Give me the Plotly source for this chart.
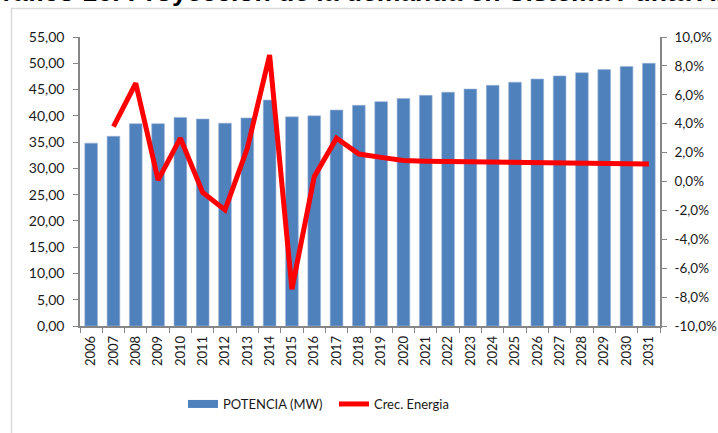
import plotly.graph_objects as go

# ---- data ----
years = [str(y) for y in range(2006, 2032)]
potencia_mw = [34.8, 36.1, 38.5, 38.5, 39.7, 39.4, 38.6, 39.6, 43.0, 39.8,
               40.0, 41.1, 42.0, 42.7, 43.3, 43.9, 44.5, 45.1, 45.8, 46.4,
               47.0, 47.6, 48.2, 48.8, 49.4, 50.0]
crec_years = [str(y) for y in range(2007, 2032)]
crec_energia_pct = [3.8, 6.8, 0.1, 3.0, -0.75, -1.97, 2.3, 8.75, -7.46, 0.33,
                    3.0, 1.9, 1.67, 1.45, 1.41, 1.39, 1.36, 1.34, 1.32, 1.30,
                    1.28, 1.26, 1.25, 1.23, 1.21]
left_ticks = [0, 5, 10, 15, 20, 25, 30, 35, 40, 45, 50, 55]
right_tickvals = [-10, -8, -6, -4, -2, 0, 2, 4, 6, 8, 10]
right_ticktext = ["-10,0%", "-8,0%", "-6,0%", "-4,0%", "-2,0%", "0,0%",
                  "2,0%", "4,0%", "6,0%", "8,0%", "10,0%"]
title_text = "Gráfico 16: Proyección de la demanda en Sistema Punta Abreojos"

W, H = 718, 433
L, R, T, B = 80, 58, 37, 107
PW, PH = W - L - R, H - T - B


def px_x(p):
    return (p - L) / PW


def px_y(p):
    return (H - B - p) / PH


BLUE = "#4F81BD"
RED = "#FF0000"
AX = "#868686"
TXT = "#1a1a1a"

fig = go.Figure()
fig.add_trace(go.Bar(
    x=years, y=potencia_mw, name="POTENCIA (MW)",
    marker=dict(color=BLUE, line=dict(color="#9DB5D6", width=0.6)),
    showlegend=False, yaxis="y",
))
# legend entry for the bars (wide rectangle like the original)
fig.add_trace(go.Scatter(
    x=[None], y=[None], mode="lines", name="POTENCIA (MW)",
    line=dict(color=BLUE, width=8), yaxis="y",
))
fig.add_trace(go.Scatter(
    x=crec_years, y=crec_energia_pct, name="Crec. Energia", mode="lines",
    line=dict(color=RED, width=5), yaxis="y2",
))

fig.update_layout(
    width=W, height=H,
    margin=dict(l=L, r=R, t=T, b=B, autoexpand=False),
    paper_bgcolor="white", plot_bgcolor="white",
    separators=",.",
    bargap=0.43,
    font=dict(family="Lato, Liberation Sans, sans-serif", size=14, color=TXT),
    xaxis=dict(
        type="category", categoryorder="array", categoryarray=years,
        tickangle=-90, tickson="boundaries", ticks="outside", ticklen=5,
        tickcolor=AX, showline=True, linecolor=AX, linewidth=1.5,
        showgrid=False, tickfont=dict(size=13), ticklabelstandoff=3,
        automargin=False,
    ),
    yaxis=dict(
        range=[0, 55], tickvals=left_ticks, tickformat=".2f",
        ticks="outside", ticklen=5, tickcolor=AX, showline=True,
        linecolor=AX, linewidth=1.5, showgrid=False, zeroline=False,
        tickfont=dict(size=14), ticklabelstandoff=6, automargin=False,
    ),
    yaxis2=dict(
        range=[-10, 10], overlaying="y", side="right",
        tickvals=right_tickvals, ticktext=right_ticktext,
        ticks="outside", ticklen=5, tickcolor=AX, showline=True,
        linecolor=AX, linewidth=1.5, showgrid=False, zeroline=False,
        tickfont=dict(size=13.5), ticklabelstandoff=5, automargin=False,
    ),
    legend=dict(
        orientation="h", x=px_x(183), xanchor="left",
        y=px_y(404), yanchor="middle",
        font=dict(size=13), entrywidth=106, entrywidthmode="pixels",
        bgcolor="rgba(0,0,0,0)",
    ),
    shapes=[dict(
        type="rect", xref="paper", yref="paper",
        x0=px_x(11.5), x1=px_x(800), y0=px_y(500), y1=px_y(8.5),
        line=dict(color="#D9D9D9", width=1.5), layer="below",
    )],
    annotations=[dict(
        text="<b>" + title_text + "</b>", xref="paper", yref="paper",
        x=px_x(-20), y=px_y(9.5), xanchor="left", yanchor="bottom",
        showarrow=False,
        font=dict(family="Liberation Sans, Arial, sans-serif", size=26.5,
                  color="#000000"),
    )],
)

fig.write_html("out.html",
               config={"displayModeBar": False},
               post_script="document.body.style.margin='0px';"
                           "document.body.style.overflow='hidden';")
